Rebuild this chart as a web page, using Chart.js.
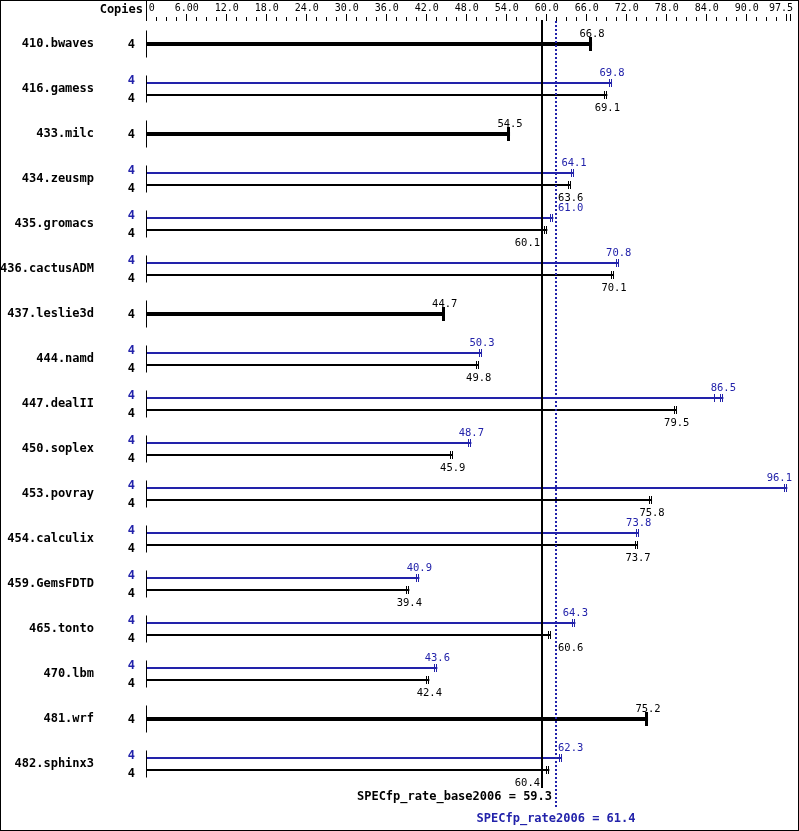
<!DOCTYPE html>
<html>
<head>
<meta charset="utf-8">
<script src="https://cdn.jsdelivr.net/npm/chart.js@4.4.1/dist/chart.umd.min.js"></script>
<style>
  html, body { margin:0; padding:0; background:#fff; }
  #wrap { width:799px; height:831px; position:relative; }
</style>
</head>
<body>
<div id="wrap"><canvas id="specChart"></canvas></div>
<script>
// benchmark rows, top to bottom
var benchmarks = ['410.bwaves','416.gamess','433.milc','434.zeusmp','435.gromacs','436.cactusADM',
                  '437.leslie3d','444.namd','447.dealII','450.soplex','453.povray','454.calculix',
                  '459.GemsFDTD','465.tonto','470.lbm','481.wrf','482.sphinx3'];
var copies     = [4,4,4,4,4,4,4,4,4,4,4,4,4,4,4,4,4];
// null = no separate peak result (base only)
var peakRates  = [null,69.8,null,64.1,61.0,70.8,null,50.3,86.5,48.7,96.1,73.8,40.9,64.3,43.6,null,62.3];
var baseRates  = [66.8,69.1,54.5,63.6,60.1,70.1,44.7,49.8,79.5,45.9,75.8,73.7,39.4,60.6,42.4,75.2,60.4];
// lowest copy result where it shows apart from the median
var peakLow    = [null,null,null,null,null,null,null,null,85.2,null,null,null,null,null,null,null,null];
var tickValues = [0,6,12,18,24,30,36,42,48,54,60,66,72,78,84,90,97.5];
var tickLabels = ['0','6.00','12.0','18.0','24.0','30.0','36.0','42.0','48.0','54.0','60.0','66.0','72.0','78.0','84.0','90.0','97.5'];
var minorStep  = 1.5;
var baseMean   = 59.3;
var peakMean   = 61.4;

var BLUE = '#2222aa';
var MONO = '"DejaVu Sans Mono", "Liberation Mono", monospace';

var baseThin  = baseRates.map(function (v, i) { return peakRates[i] == null ? null : v; });
var baseThick = baseRates.map(function (v, i) { return peakRates[i] == null ? v : null; });

function cap(ctx, x, y, h, w, color) {
    ctx.fillStyle = color;
    ctx.fillRect(Math.round(x) - w, y - h / 2, 1, h);
    ctx.fillRect(Math.round(x) - 1, y - h / 2, 1, h);
}

var specPlugin = {
    id: 'specDecor',
    afterDraw: function (chart) {
        var ctx = chart.ctx, xs = chart.scales.x, ys = chart.scales.y;
        var W = chart.width, H = chart.height;
        var x0 = xs.getPixelForValue(0);
        var bx = xs.getPixelForValue(baseMean), px = xs.getPixelForValue(peakMean);
        var mPeak = chart.getDatasetMeta(0), mBase = chart.getDatasetMeta(1), mThick = chart.getDatasetMeta(2);
        ctx.save();

        // top scale
        ctx.fillStyle = '#000';
        ctx.fillRect(Math.round(x0) - 1, 0, 1, 21);
        for (var v = minorStep; v < 97.5; v += minorStep) {
            var tx = Math.round(xs.getPixelForValue(v)) - 1;
            var major = Math.abs(v / 6 - Math.round(v / 6)) < 1e-6;
            ctx.fillRect(tx, major ? 14 : 17, 1, major ? 7 : 4);
        }
        var lastX = Math.min(xs.getPixelForValue(97.5), W - 8);
        ctx.fillRect(Math.round(lastX) - 1, 14, 1, 7);
        ctx.font = '10px ' + MONO;
        ctx.textBaseline = 'alphabetic';
        tickValues.forEach(function (t, i) {
            var tx = i === tickValues.length - 1 ? lastX : xs.getPixelForValue(t);
            if (i === 0) { ctx.textAlign = 'left'; tx += 2; }
            else if (i === tickValues.length - 1) { ctx.textAlign = 'right'; tx += 2; }
            else ctx.textAlign = 'center';
            ctx.fillText(tickLabels[i], tx, 11);
        });
        ctx.font = 'bold 12px ' + MONO;
        ctx.textAlign = 'right';
        ctx.fillText('Copies', 143, 13);

        // row names, copies, axis segments
        benchmarks.forEach(function (name, i) {
            var cy = ys.getPixelForValue(i);
            ctx.fillStyle = '#000';
            ctx.fillRect(Math.round(x0) - 1, cy - 13.5, 1, 27);
            ctx.font = 'bold 12px ' + MONO;
            ctx.textAlign = 'right';
            ctx.textBaseline = 'middle';
            ctx.fillText(name, 94, cy);
            if (peakRates[i] == null) {
                ctx.fillText(String(copies[i]), 135, cy + 1);
            } else {
                ctx.fillStyle = BLUE;
                ctx.fillText(String(copies[i]), 135, mPeak.data[i].y - 2);
                ctx.fillStyle = '#000';
                ctx.fillText(String(copies[i]), 135, mBase.data[i].y + 4);
            }
        });

        // caps
        benchmarks.forEach(function (name, i) {
            if (peakRates[i] != null) {
                var p = mPeak.data[i], b = mBase.data[i];
                cap(ctx, p.x, p.y, 8, 3, BLUE);
                if (peakLow[i] != null) {
                    var lx = Math.round(xs.getPixelForValue(peakLow[i]));
                    ctx.fillRect(lx - 1, p.y - 4, 1, 8);
                }
                cap(ctx, b.x, b.y, 8, 3, '#000');
            } else {
                var t = mThick.data[i];
                ctx.fillStyle = '#000';
                ctx.fillRect(Math.round(t.x) - 3, t.y - 7, 3, 14);
            }
        });

        // mean lines
        ctx.fillStyle = '#000';
        ctx.fillRect(Math.round(bx) - 1, 20, 2, 768);
        ctx.fillStyle = BLUE;
        for (var yy = 21; yy < 809; yy += 4) ctx.fillRect(Math.round(px) - 1, yy, 2, 2);

        // value labels
        ctx.font = '10.5px ' + MONO;
        ctx.textBaseline = 'alphabetic';
        ctx.textAlign = 'left';
        function valueLabel(val, ex, y, color) {
            var s = val.toFixed(1), w = ctx.measureText(s).width;
            var left = ex - w / 2;
            if (left + w > bx - 2 && left < px + 2) {
                if (ex < (bx + px) / 2 + 1.5) left = bx - 2 - w;
                else left = px + 2;
            }
            if (left + w > W - 7) left = W - 7 - w;
            ctx.fillStyle = color;
            ctx.fillText(s, left, y);
        }
        benchmarks.forEach(function (name, i) {
            if (peakRates[i] != null) {
                var p = mPeak.data[i], b = mBase.data[i];
                valueLabel(peakRates[i], p.x, p.y - 7, BLUE);
                valueLabel(baseRates[i], b.x, b.y + 15.5, '#000');
            } else {
                var t = mThick.data[i];
                valueLabel(baseRates[i], t.x, t.y - 7, '#000');
            }
        });

        // summary texts
        ctx.font = 'bold 12px ' + MONO;
        ctx.fillStyle = '#000';
        ctx.textAlign = 'right';
        ctx.fillText('SPECfp_rate_base2006 = ' + baseMean.toFixed(1), bx + 10, 800);
        ctx.fillStyle = BLUE;
        ctx.textAlign = 'center';
        ctx.fillText('SPECfp_rate2006 = ' + peakMean.toFixed(1), px, 822);

        // frame
        ctx.strokeStyle = '#000';
        ctx.lineWidth = 1;
        ctx.strokeRect(0.5, 0.5, W - 1, H - 1);
        ctx.restore();
    }
};

new Chart(document.getElementById('specChart'), {
    type: 'bar',
    data: {
        labels: benchmarks,
        datasets: [
            { label: 'peak', data: peakRates, backgroundColor: BLUE },
            { label: 'base', data: baseThin,  backgroundColor: '#000' },
            { label: 'base only', data: baseThick, backgroundColor: '#000' }
        ]
    },
    options: {
        indexAxis: 'y',
        responsive: true,
        maintainAspectRatio: false,
        animation: false,
        layout: { padding: { left: 146.7, right: 2.3, top: 21.5, bottom: 44.5 } },
        datasets: { bar: { skipNull: true, categoryPercentage: 24 / 45, barPercentage: 1 / 6, borderWidth: 0 } },
        plugins: { legend: { display: false }, tooltip: { enabled: false } },
        scales: {
            x: { display: false, min: 0, max: 97.5 },
            y: { display: false }
        }
    },
    plugins: [specPlugin]
});
</script>
</body>
</html>
